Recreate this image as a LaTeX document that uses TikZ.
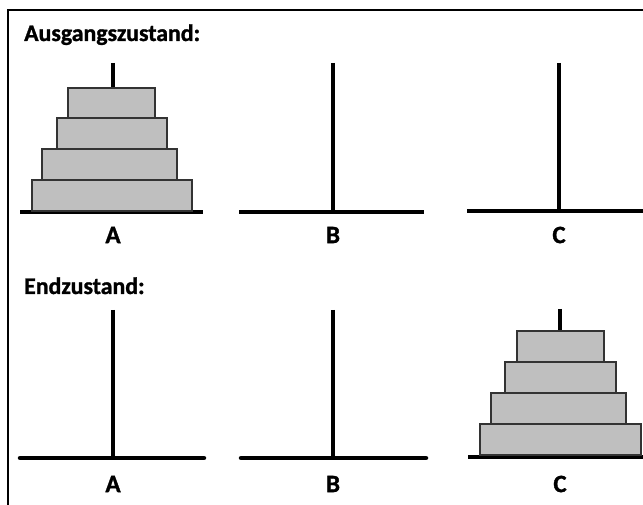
\documentclass[tikz,border=0pt]{standalone}
\usepackage{fontspec}
\setmainfont{Carlito}
\newfontfamily\heavy{Carlito Bold}[FakeBold=1.2]
\begin{document}
\begin{tikzpicture}[x=1pt,y=-1pt,
  peg/.style={line width=4pt},
  base/.style={line width=4.5pt},
  disk/.style={draw=black!80,line width=1.3pt,fill=black!25},
  title/.style={font=\heavy\fontsize{23.8}{23.8}\selectfont,anchor=base west,inner sep=0pt},
  lbl/.style={font=\heavy\fontsize{25}{25}\selectfont,inner sep=0pt}]
\useasboundingbox (0,0) rectangle (643,505);
\fill[white] (0,0) rectangle (643,505);
% frame
\draw[line width=2pt] (643,10) -- (8,10) -- (8,505);
% titles
\node[title] (t1) at (24,41) {Ausgangszustand:};
\node[title] (t2) at (24,294) {Endzustand:};
% ---- top row
\draw[peg] (113,63) -- (113,212);
\draw[base] (20,212) -- (203,212);
\draw[disk] (32,180) rectangle (192,211);
\draw[disk] (42,149) rectangle (177,180);
\draw[disk] (57,118) rectangle (167,149);
\draw[disk] (68,88) rectangle (155,118);
\draw[peg] (333,63) -- (333,212);
\draw[base] (239,212) -- (424,212);
\draw[peg] (559,63) -- (559,211);
\draw[base] (467,211) -- (643,211);
\node[lbl] (a1) at (113,235) {A};
\node[lbl] (b1) at (333,235) {B};
\node[lbl] (c1) at (559,235) {C};
% ---- bottom row
\draw[peg] (113,310) -- (113,458);
\draw[base,line cap=round] (20,458) -- (204,458);
\draw[peg] (333,310) -- (333,458);
\draw[base,line cap=round] (241,458) -- (426,458);
\draw[peg] (560,309) -- (560,457);
\draw[base] (468,457) -- (643,457);
\draw[disk] (480,424) rectangle (641,455);
\draw[disk] (491,393) rectangle (626,424);
\draw[disk] (505,362) rectangle (616,393);
\draw[disk] (517,331) rectangle (604,362);
\node[lbl] (a2) at (113,484) {A};
\node[lbl] (b2) at (333,484) {B};
\node[lbl] (c2) at (560,484) {C};
\end{tikzpicture}
\end{document}
